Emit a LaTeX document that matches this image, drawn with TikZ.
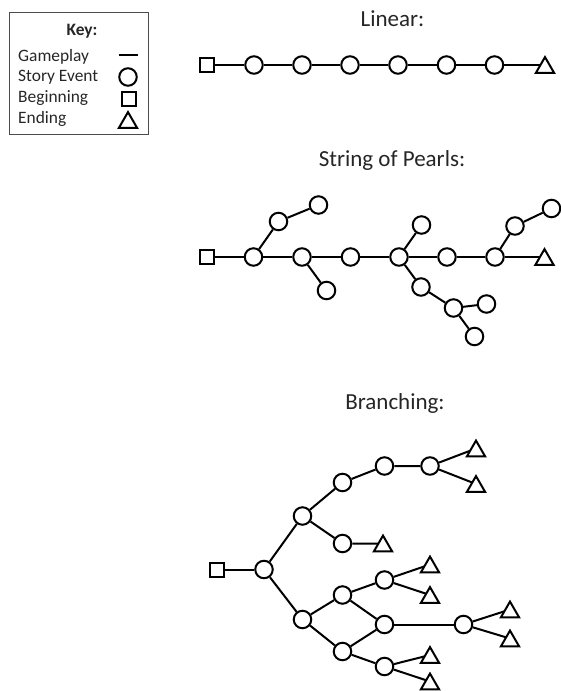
\documentclass[tikz,border=0pt]{standalone}
\usepackage{fontspec}
\setmainfont{Carlito}
\usetikzlibrary{shapes.geometric}
\pgfdeclarelayer{background}
\pgfsetlayers{background,main}
\begin{document}
\begin{tikzpicture}[x=1pt,y=-1pt,
  ev/.style={circle,draw,fill=white,line width=2pt,minimum size=17.5pt,inner sep=0pt},
  beg/.style={rectangle,draw,fill=white,line width=2pt,minimum size=14pt,inner sep=0pt},
  fin/.style={regular polygon,regular polygon sides=3,draw,fill=white,line width=2pt,minimum size=21pt,inner sep=0pt},
  edge/.style={line width=2pt},
  title/.style={font=\fontsize{23}{27}\selectfont,anchor=base,inner sep=0pt,text=black!85},
  keytext/.style={font=\fontsize{17.4}{20}\selectfont,anchor=base west,inner sep=0pt,text=black!85}]
\useasboundingbox (0,0) rectangle (561,691);
% Key
\draw[black!70,line width=1pt] (9,12) rectangle (148,134);
\node[keytext,font=\fontsize{17.4}{20}\selectfont\bfseries,anchor=base] (keyt) at (82,35) {Key:};
\node[keytext] (k1) at (18,61) {Gameplay};
\node[keytext] (k2) at (18,81.7) {Story Event};
\node[keytext] (k3) at (18,102.7) {Beginning};
\node[keytext] (k4) at (18,123) {Ending};
\coordinate (kl1) at (119,54.5);
\coordinate (kl2) at (138,54.5);
\draw[edge] (kl1) -- (kl2);
\node[ev] (kc) at (128,77) {};
\node[beg] (ks) at (128.5,98.5) {};
\node[fin] (kt) at (128,122.6) {};
% Linear
\node[title] (tlin) at (392.5,26) {Linear:};
\node[beg] (l0) at (207,65) {};
\node[ev] (l1) at (254,65) {};
\node[ev] (l2) at (302,65) {};
\node[ev] (l3) at (350,65) {};
\node[ev] (l4) at (398,65) {};
\node[ev] (l5) at (446.5,65) {};
\node[ev] (l6) at (494.5,65) {};
\node[fin] (l7) at (545,67.6) {};
\begin{pgfonlayer}{background}
\draw[edge] (l0) -- (l1) -- (l2) -- (l3) -- (l4) -- (l5) -- (l6) -- ([yshift=2.6pt]l7.center);
\end{pgfonlayer}
% String of Pearls
\node[title] (tsp) at (392,166) {String of Pearls:};
\node[beg] (s0) at (207,257) {};
\node[ev] (s1) at (253.5,257) {};
\node[ev] (s2) at (302,257) {};
\node[ev] (s3) at (350.5,257) {};
\node[ev] (s4) at (399,257) {};
\node[ev] (s5) at (447,257) {};
\node[ev] (s6) at (495,257) {};
\node[fin] (s7) at (544.5,259.6) {};
\node[ev] (a1) at (278.5,221.5) {};
\node[ev] (a2) at (318.5,205) {};
\node[ev] (b1) at (326.5,290.5) {};
\node[ev] (c1) at (421.5,225) {};
\node[ev] (d1) at (421,287) {};
\node[ev] (d2) at (453.5,308) {};
\node[ev] (d3) at (486.5,304) {};
\node[ev] (d4) at (474.5,336.5) {};
\node[ev] (e1) at (515,226) {};
\node[ev] (e2) at (551.5,208.5) {};
\begin{pgfonlayer}{background}
\draw[edge] (s0) -- (s1) -- (s2) -- (s3) -- (s4) -- (s5) -- (s6) -- ([yshift=2.6pt]s7.center);
\draw[edge] (s1) -- (a1) -- (a2);
\draw[edge] (s2) -- (b1);
\draw[edge] (s4) -- (c1);
\draw[edge] (s4) -- (d1) -- (d2) -- (d3);
\draw[edge] (d2) -- (d4);
\draw[edge] (s6) -- (e1) -- (e2);
\end{pgfonlayer}
% Branching
\node[title] (tbr) at (395,409) {Branching:};
\node[beg] (q0) at (216.5,569.5) {};
\node[ev] (qA) at (264,569.5) {};
\node[ev] (qB) at (302.5,516) {};
\node[ev] (qC) at (342.5,482.5) {};
\node[ev] (qD) at (384.5,466) {};
\node[ev] (qE) at (430,466) {};
\node[fin] (qE1) at (476,451.1) {};
\node[fin] (qE2) at (476,486.6) {};
\node[ev] (qF) at (342.5,543.5) {};
\node[fin] (qF1) at (383,546.1) {};
\node[ev] (qG) at (302.5,619.5) {};
\node[ev] (qH) at (342.5,595) {};
\node[ev] (qI) at (384.5,580) {};
\node[fin] (qI1) at (430,567.1) {};
\node[fin] (qI2) at (430,597.6) {};
\node[ev] (qJ) at (384.5,624.5) {};
\node[ev] (qK) at (463.5,624.5) {};
\node[fin] (qK1) at (510,612.1) {};
\node[fin] (qK2) at (510,641.1) {};
\node[ev] (qL) at (342.5,651.5) {};
\node[ev] (qM) at (384.5,666.5) {};
\node[fin] (qM1) at (430,657.6) {};
\node[fin] (qM2) at (430,684.1) {};
\begin{pgfonlayer}{background}
\draw[edge] (q0) -- (qA);
\draw[edge] (qA) -- (qB) -- (qC) -- (qD) -- (qE);
\draw[edge] (qE) -- ([yshift=2.6pt]qE1.center);
\draw[edge] (qE) -- ([yshift=2.6pt]qE2.center);
\draw[edge] (qB) -- (qF) -- ([yshift=2.6pt]qF1.center);
\draw[edge] (qA) -- (qG);
\draw[edge] (qG) -- (qH) -- (qI);
\draw[edge] (qI) -- ([yshift=2.6pt]qI1.center);
\draw[edge] (qI) -- ([yshift=2.6pt]qI2.center);
\draw[edge] (qH) -- (qJ);
\draw[edge] (qG) -- (qL) -- (qJ);
\draw[edge] (qJ) -- (qK);
\draw[edge] (qK) -- ([yshift=2.6pt]qK1.center);
\draw[edge] (qK) -- ([yshift=2.6pt]qK2.center);
\draw[edge] (qL) -- (qM);
\draw[edge] (qM) -- ([yshift=2.6pt]qM1.center);
\draw[edge] (qM) -- ([yshift=2.6pt]qM2.center);
\end{pgfonlayer}
\end{tikzpicture}
\end{document}
